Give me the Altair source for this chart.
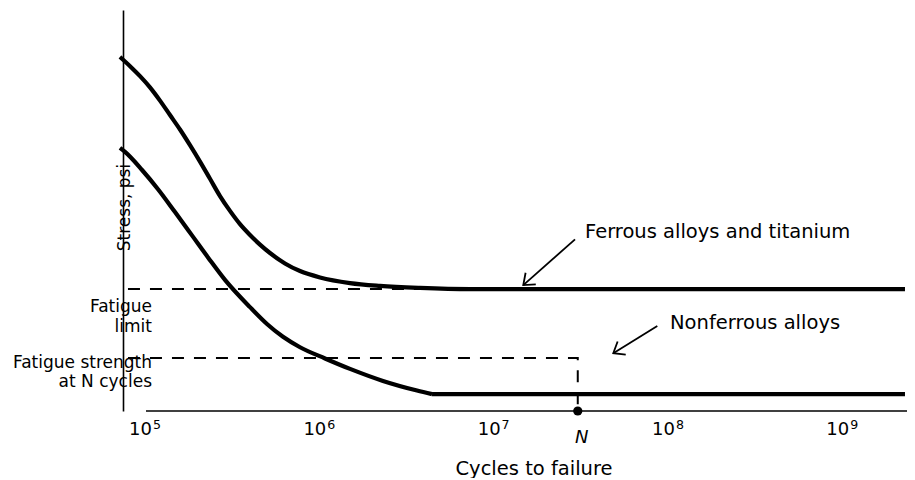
import altair as alt
import pandas as pd

# ---- data (x: cycles, y: stress in arbitrary units 0-100) ----
ferrous_cycles = [7.09e4, 8.10e4, 9.24e4, 1.054e5, 1.203e5, 1.373e5, 1.567e5, 1.788e5,
                  2.041e5, 2.329e5, 2.658e5, 3.033e5, 3.462e5, 3.951e5, 4.508e5, 5.145e5,
                  6.27e5, 7.65e5, 9.96e5, 1.48e6, 2.2e6, 3.73e6, 7.23e6, 2.262e9]
ferrous_stress = [88.3, 86.0, 83.5, 80.7, 77.4, 73.8, 70.2, 66.3,
                  62.2, 57.9, 53.6, 49.9, 46.6, 43.9, 41.5, 39.4,
                  36.8, 34.9, 33.3, 31.9, 31.2, 30.7, 30.4, 30.4]

nonferrous_cycles = [7.09e4, 7.58e4, 9.49e4, 1.172e5, 1.467e5, 1.836e5, 2.269e5, 2.839e5,
                     3.951e5, 4.944e5, 6.108e5, 7.65e5, 1.064e6, 1.481e6, 2.289e6, 3.588e6,
                     4.375e6, 2.262e9]
nonferrous_stress = [65.6, 64.6, 60.1, 55.3, 49.6, 43.8, 38.3, 32.7,
                     25.9, 21.7, 18.5, 15.9, 13.1, 10.5, 7.5, 5.1,
                     4.2, 4.2]

fatigue_limit = 30.4
fatigue_strength_N = 13.2
n_cycles = 3.0e7
dash_start = 7.88e4
limit_dash_end = 4.26e6

tick_values = [1e5, 1e6, 1e7, 1e8, 1e9]
tick_base = ["10", "10", "10", "10", "10"]
tick_exponent = ["5", "6", "7", "8", "9"]

x_domain = [73796, 2.323e9]
y_domain = [0, 100]

left_labels = ["Fatigue", "limit", "Fatigue strength", "at N cycles"]
left_label_x = [1.0824e5, 1.0824e5, 1.0824e5, 1.0824e5]
left_label_y = [24.8, 19.8, 10.6, 5.9]

note_text = ["Ferrous alloys and titanium", "Nonferrous alloys"]
note_x = [3.302e7, 1.015e8]
note_y = [43.1, 20.4]

arrow_x_start = [2.893e7, 8.58e7]
arrow_y_start = [42.8, 21.2]
arrow_x_tip = [1.461e7, 4.797e7]
arrow_y_tip = [31.4, 14.4]
arrow_angle = [138.5, 148.2]

# ---- tables ----
ferrous = pd.DataFrame({"x": ferrous_cycles, "y": ferrous_stress})
nonferrous = pd.DataFrame({"x": nonferrous_cycles, "y": nonferrous_stress})
nonferrous_curve = nonferrous.iloc[:-1]
nonferrous_tail = nonferrous.iloc[-2:]
limit_dash = pd.DataFrame({"x": [dash_start, limit_dash_end], "y": [fatigue_limit, fatigue_limit], "i": [0, 1]})
strength_dash = pd.DataFrame({"x": [dash_start, n_cycles, n_cycles],
                              "y": [fatigue_strength_N, fatigue_strength_N, 0], "i": [0, 1, 2]})
xaxis_line = pd.DataFrame({"x": [tick_values[0]], "x2": [x_domain[1]], "y": [0]})
ticks_df = pd.DataFrame({"x": tick_values, "y": [0] * len(tick_values),
                         "b": tick_base, "e": tick_exponent})
n_point = pd.DataFrame({"x": [n_cycles], "y": [0], "t": ["N"]})
left_df = pd.DataFrame({"x": left_label_x, "y": left_label_y, "t": left_labels})
notes_df = pd.DataFrame({"x": note_x, "y": note_y, "t": note_text})
arrows_df = pd.DataFrame({"x": arrow_x_start, "y": arrow_y_start,
                          "x2": arrow_x_tip, "y2": arrow_y_tip,
                          "a": arrow_angle})

FONT = "DejaVu Sans"
xs = alt.Scale(type="log", domain=x_domain, nice=False)
ys = alt.Scale(domain=y_domain, nice=False, zero=False)

x_axis = alt.Axis(values=tick_values, labels=False, title="Cycles to failure",
                  domain=False, ticks=False, tickSize=0, grid=False,
                  titleFontSize=19.5, titleFont=FONT, titleFontWeight="normal",
                  titleColor="black", titleX=410.5, titleY=63,
                  titleAlign="center", titleBaseline="alphabetic")
y_axis = alt.Axis(title="Stress, psi", ticks=False, labels=False, grid=False,
                  domainColor="black", domainWidth=1.6,
                  titleAngle=270, titleX=6, titleY=197, titleAlign="center",
                  titleBaseline="alphabetic", titleFontSize=17, titleFont=FONT,
                  titleFontWeight="normal", titleColor="black")


def X(field="x"):
    return alt.X(f"{field}:Q", scale=xs, axis=x_axis)


def Y(field="y"):
    return alt.Y(f"{field}:Q", scale=ys, axis=y_axis)


ferrous_line = alt.Chart(ferrous).mark_line(color="black", strokeWidth=4.2, interpolate="monotone").encode(
    x=X(), y=Y())
nonferrous_line = alt.Chart(nonferrous_curve).mark_line(color="black", strokeWidth=4.2, interpolate="monotone").encode(
    x=X(), y=Y())
nonferrous_flat = alt.Chart(nonferrous_tail).mark_line(color="black", strokeWidth=4.2).encode(
    x=X(), y=Y())

limit_line = alt.Chart(limit_dash).mark_line(color="black", strokeWidth=2, strokeDash=[12, 10]).encode(
    x=X(), y=Y(), order="i:Q")
strength_line = alt.Chart(strength_dash).mark_line(color="black", strokeWidth=2, strokeDash=[12, 10]).encode(
    x=X(), y=Y(), order="i:Q")

axis_rule = alt.Chart(xaxis_line).mark_rule(color="black", strokeWidth=1.6).encode(
    x=X(), x2="x2:Q", y=Y())

tick_base_text = alt.Chart(ticks_df).mark_text(font=FONT, fontSize=18, color="black",
                                               align="right", baseline="alphabetic",
                                               dx=6, dy=24).encode(
    x=X(), y=Y(), text="b:N")
tick_exp_text = alt.Chart(ticks_df).mark_text(font=FONT, fontSize=12.6, color="black",
                                              align="left", baseline="alphabetic",
                                              dx=7, dy=17.5).encode(
    x=X(), y=Y(), text="e:N")

dot = alt.Chart(n_point).mark_point(filled=True, size=85, color="black", opacity=1).encode(
    x=X(), y=Y())
n_text = alt.Chart(n_point).mark_text(font=FONT, fontSize=18, fontStyle="italic", color="black",
                                      dy=32, dx=4, align="center", baseline="alphabetic").encode(
    x=X(), y=Y(), text="t:N")

left_text = alt.Chart(left_df).mark_text(font=FONT, fontSize=17, color="black",
                                         align="right", baseline="alphabetic").encode(
    x=X(), y=Y(), text="t:N")
notes = alt.Chart(notes_df).mark_text(font=FONT, fontSize=19.5, color="black",
                                      align="left", baseline="alphabetic").encode(
    x=X(), y=Y(), text="t:N")

shafts = alt.Chart(arrows_df).mark_rule(color="black", strokeWidth=1.8).encode(
    x=X(), y=Y(), x2="x2:Q", y2="y2:Q")
heads = alt.Chart(arrows_df).mark_point(shape="M-1,-0.78L0,0L-1,0.78", filled=False,
                                        size=390, strokeWidth=1.8, color="black", opacity=1).encode(
    x=X("x2"), y=Y("y2"),
    angle=alt.Angle("a:Q", scale=None))

chart = alt.layer(
    ferrous_line, nonferrous_line, nonferrous_flat, limit_line, strength_line, axis_rule,
    tick_base_text, tick_exp_text,
    dot, n_text, left_text, notes, shafts, heads
).properties(
    width=784, height=401,
    padding={"left": 115, "top": 2, "right": 0, "bottom": 67},
    autosize=alt.AutoSizeParams(type="none"),
).configure_view(stroke=None)

chart.save("out.html", embed_options={"renderer": "svg", "actions": False})
